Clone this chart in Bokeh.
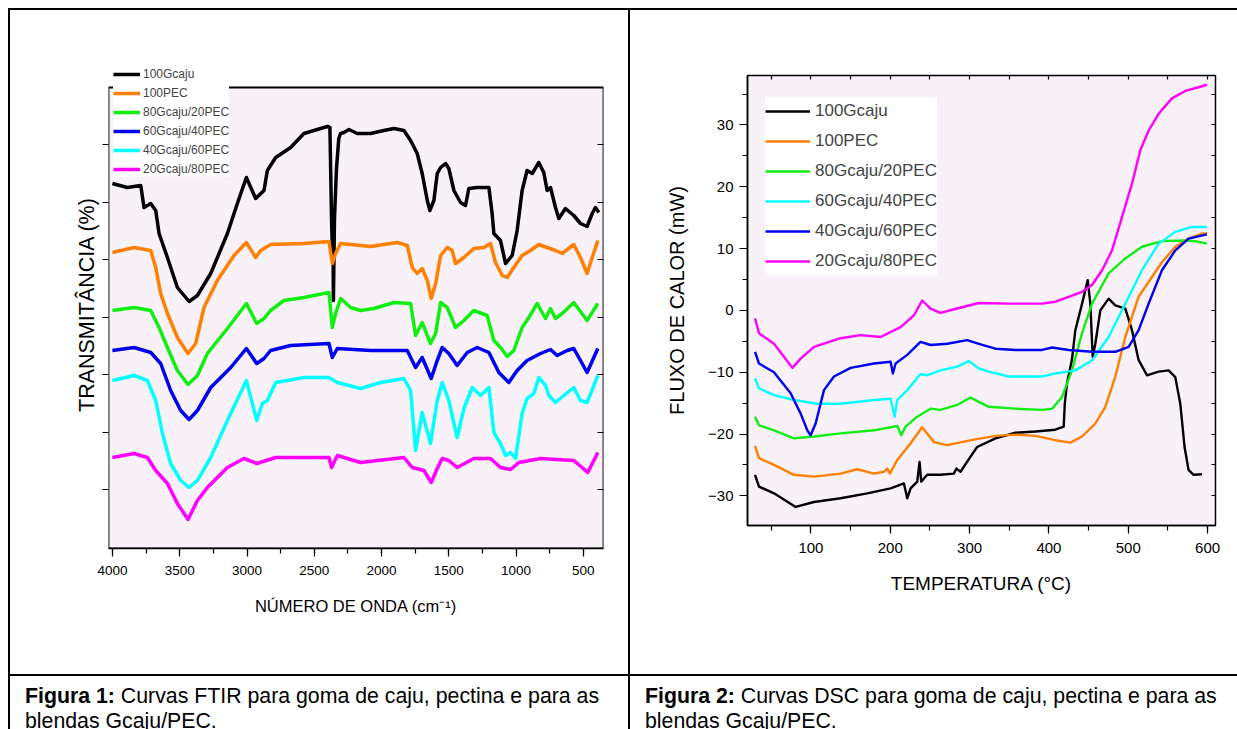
from bokeh.plotting import figure
from bokeh.models import (Range1d, SingleIntervalTicker, FixedTicker, LinearAxis,
                          Legend, LegendItem, Div, BoxAnnotation, CustomJSTickFormatter)
from bokeh.layouts import row, column
from bokeh.embed import file_html
from bokeh.resources import INLINE

# ---------------- FTIR data (wavenumber cm-1, transmittance a.u.) ----------------
ftir_labels = ["100Gcaju", "100PEC", "80Gcaju/20PEC", "60Gcaju/40PEC", "40Gcaju/60PEC", "20Gcaju/80PEC"]

ftir_wn_100g = [4001, 3890, 3790, 3766, 3716, 3679, 3654, 3592, 3518, 3431, 3369, 3270, 3146, 3072, 3005, 2936,
                2874, 2849, 2787, 2676, 2577, 2478, 2403, 2384, 2372, 2366, 2362, 2358, 2350, 2335, 2318, 2305,
                2280, 2242, 2181, 2082, 1983, 1908, 1834, 1784, 1735, 1698, 1660, 1641, 1611, 1586, 1561, 1524,
                1500, 1462, 1413, 1376, 1351, 1289, 1202, 1178, 1165, 1116, 1078, 1029, 992, 955, 918, 880, 831,
                794, 769, 744, 707, 682, 633, 571, 521, 472, 434, 410, 385]
ftir_t_100g = [365, 361, 363, 341, 345, 338, 315, 291, 261, 247, 253, 275, 315, 345, 371, 350,
               358, 378, 391, 401, 415, 419, 422, 421, 330, 300, 330, 248, 330, 380, 410, 415,
               416, 419, 415, 415, 418, 420, 418, 408, 395, 375, 348, 338, 348, 375, 381, 385,
               380, 358, 346, 343, 360, 361, 361, 335, 315, 308, 285, 293, 318, 358, 378, 375, 386,
               376, 358, 361, 341, 330, 340, 333, 325, 322, 335, 341, 336]

ftir_wn_100p = [4001, 3840, 3716, 3679, 3642, 3592, 3518, 3439, 3382, 3320, 3221, 3097, 3005, 2936, 2899, 2825,
                2577, 2391, 2366, 2342, 2304, 2082, 1883, 1809, 1772, 1735, 1698, 1660, 1631, 1598, 1561, 1512,
                1475, 1450, 1388, 1314, 1239, 1190, 1153, 1103, 1066, 1017, 955, 893, 831, 769, 707, 657, 571,
                521, 472, 434, 392]
ftir_t_100p = [296, 301, 298, 281, 255, 235, 211, 195, 205, 241, 268, 293, 306, 291, 298, 304,
               305, 307, 285, 295, 305, 302, 306, 303, 281, 275, 280, 268, 250, 265, 293, 301,
               298, 285, 291, 300, 301, 305, 286, 273, 271, 281, 293, 298, 304, 301, 298, 295, 304,
               291, 275, 291, 308]

ftir_wn_80g = [4001, 3840, 3716, 3654, 3592, 3518, 3439, 3369, 3295, 3146, 3005, 2928, 2874, 2825, 2726, 2577,
               2391, 2366, 2342, 2304, 2230, 2156, 2057, 1908, 1784, 1747, 1698, 1636, 1598, 1561, 1512, 1450,
               1388, 1314, 1215, 1165, 1116, 1066, 1017, 955, 905, 843, 781, 744, 707, 657, 571, 472, 392]
ftir_t_80g = [238, 241, 238, 221, 201, 178, 164, 173, 195, 220, 245, 225, 230, 238, 248, 251,
              256, 221, 235, 250, 241, 238, 240, 246, 245, 213, 226, 205, 215, 246, 241, 221,
              228, 238, 233, 208, 201, 192, 198, 221, 231, 245, 230, 240, 230, 235, 246, 228, 245]

ftir_wn_60g = [4001, 3840, 3716, 3642, 3568, 3493, 3431, 3369, 3270, 3121, 3005, 2928, 2874, 2825, 2676, 2391,
               2366, 2329, 2082, 1809, 1747, 1698, 1631, 1586, 1549, 1500, 1438, 1363, 1289, 1202, 1128, 1054,
               992, 918, 818, 744, 695, 620, 571, 521, 472, 392]
ftir_t_60g = [198, 201, 196, 185, 158, 138, 129, 138, 161, 181, 200, 185, 190, 198, 203, 205,
              191, 200, 198, 198, 181, 191, 170, 188, 201, 195, 183, 196, 201, 196, 176, 166,
              178, 188, 195, 199, 193, 198, 200, 188, 176, 200]

ftir_wn_40g = [4001, 3840, 3741, 3679, 3629, 3568, 3493, 3431, 3369, 3270, 3146, 3005, 2928, 2886, 2849, 2787,
               2577, 2391, 2329, 2156, 2007, 1834, 1784, 1747, 1698, 1636, 1586, 1549, 1500, 1438, 1388, 1326,
               1264, 1202, 1165, 1116, 1078, 1041, 1004, 955, 918, 868, 831, 781, 756, 707, 645, 571, 521, 472, 392]
ftir_t_40g = [168, 173, 168, 148, 115, 85, 68, 61, 68, 91, 128, 168, 128, 145, 148, 166,
              171, 171, 166, 160, 166, 170, 158, 98, 136, 105, 148, 166, 148, 111, 140, 161,
              153, 161, 116, 105, 93, 96, 90, 135, 150, 155, 171, 163, 153, 146, 153, 161, 148, 146, 173]

ftir_wn_20g = [4001, 3840, 3741, 3679, 3592, 3518, 3439, 3369, 3295, 3146, 3023, 2928, 2787, 2391, 2371, 2329,
               2156, 1834, 1772, 1685, 1631, 1586, 1549, 1500, 1438, 1314, 1190, 1116, 1041, 979, 818, 571, 509,
               467, 392]
ftir_t_20g = [91, 95, 91, 78, 65, 45, 29, 48, 61, 81, 90, 85, 91, 91, 81, 93,
              86, 91, 81, 78, 66, 80, 90, 88, 81, 90, 90, 81, 79, 86, 90, 88, 81,
              76, 96]

ftir_yticks = [58.7, 116.2, 173.7, 231.2, 288.7, 346.2, 403.7]
ftir_ymax = 461  # top of the plotted box (a.u.)

# ---------------- DSC data (temperature C, heat flow mW) ----------------
dsc_labels = ["100Gcaju", "100PEC", "80Gcaju/20PEC", "60Gcaju/40PEC", "40Gcaju/60PEC", "20Gcaju/80PEC"]

dsc_t_100g = [29.5, 34.5, 53.4, 80.7, 103.8, 137.4, 171, 200.4, 217.2, 221.4, 225.6, 234, 236.9, 239, 246.6,
              263.3, 280, 283.5, 288.5, 301, 309.5, 332.6, 357.8, 383, 408, 418.6, 420, 422.8, 429, 433.3,
              441.8, 448.9, 452.2, 455.2, 458.5, 464.8, 475.3, 483.7, 496.3, 504.7, 513, 523.6, 538.3, 550.9,
              559.3, 565.6, 571, 576, 582.4, 592.9]
dsc_f_100g = [-26.6, -28.5, -29.6, -31.8, -31.0, -30.4, -29.6, -28.8, -28.0, -30.4, -28.8, -27.7, -24.5, -27.7, -26.6,
              -26.6, -26.4, -25.6, -26.1, -23.7, -22.1, -20.7, -19.8, -19.6, -19.3, -18.8, -15.1, -11.8, -8.0, -3.2,
              1.1, 4.9, 1.1, -7.5, -5.4, 0.0, 1.9, 0.8, 0.3, -3.2, -8.0, -10.5, -9.9, -9.7,
              -10.8, -15.1, -22.1, -25.8, -26.6, -26.5]

dsc_t_100p = [29.5, 34.5, 53.4, 78.6, 103.8, 137.4, 158.4, 179.4, 192, 196.2, 199.5, 208.8, 225.6, 240.2, 255,
              271.7, 305.3, 332.6, 357.8, 383, 408, 427, 441.8, 458.5, 471.1, 483.7, 496.3, 513, 529.9, 542.5,
              559.3, 576, 592.9, 599.2]
dsc_f_100p = [-21.9, -23.9, -25.0, -26.6, -26.9, -26.4, -25.7, -26.4, -26.1, -25.6, -26.4, -24.2, -21.5, -18.9, -21.3,
              -21.8, -20.9, -20.3, -20.1, -20.3, -21.0, -21.4, -20.4, -18.3, -15.6, -10.7, -4.3, 2.2, 5.4, 7.8,
              10.3, 11.6, 12.4, 12.5]

dsc_t_80g = [29.5, 34.5, 53.4, 78.6, 103.8, 137.4, 179.4, 208.8, 213.8, 219.3, 234, 250.7, 263.3, 284.3, 301.1,
             311.6, 324.2, 357.8, 391.4, 404, 416.5, 429.1, 441.7, 454.3, 475.3, 496.3, 517.3, 542.5, 567.7,
             584.5, 599.2]
dsc_f_80g = [-17.2, -18.6, -19.4, -20.7, -20.4, -19.9, -19.4, -18.7, -20.2, -18.8, -17.2, -15.9, -16.1, -15.3, -14.1,
             -14.8, -15.6, -15.9, -16.1, -15.9, -14.0, -9.7, -3.7, 1.1, 6.0, 8.4, 10.3, 11.2, 11.3,
             11.2, 10.8]

dsc_t_60g = [29.5, 34.5, 53.4, 78.6, 108, 137.4, 179.4, 200.4, 205.4, 208.8, 221.4, 238.1, 246.5, 263.3, 284.3,
             299, 311.6, 324.2, 349.4, 391.4, 408, 433.3, 454.3, 475.3, 496.3, 517.3, 538.3, 559.3, 580.3, 599.2]
dsc_f_60g = [-11.0, -12.6, -13.7, -14.5, -15.1, -15.1, -14.5, -14.3, -17.2, -14.5, -12.9, -10.3, -10.5, -9.7, -9.1,
             -8.2, -9.4, -9.9, -10.7, -10.7, -10.2, -9.7, -8.1, -4.3, 1.1, 6.5, 10.8, 12.7, 13.5, 13.5]

dsc_t_40g = [29.5, 34.5, 53.4, 74.4, 87, 95.4, 99.6, 105.9, 116.4, 129, 150, 179.4, 200.4, 203.3, 206.7, 221.4,
             238.1, 250.7, 271.7, 297, 311.6, 332.6, 357.8, 391.4, 404, 425, 454.3, 483.7, 500.5, 513.1, 525.7,
             542.5, 559.3, 576.1, 599.2]
dsc_f_40g = [-6.7, -8.6, -10.0, -13.4, -16.7, -19.4, -20.2, -18.3, -12.9, -10.7, -9.3, -8.6, -8.3, -10.2, -8.6, -7.2,
             -5.1, -5.6, -5.4, -4.8, -5.4, -6.2, -6.4, -6.4, -6.0, -6.4, -6.7, -6.7, -5.9, -3.2, 1.1,
             6.5, 9.7, 11.6, 12.3]

dsc_t_20g = [29.5, 34.5, 53.4, 66, 76.5, 87, 103.8, 137.4, 162.6, 187.8, 213, 229.8, 240.2, 250.7, 263.3, 284.3,
             311.6, 349.4, 391.4, 408, 425, 441.7, 454.3, 467, 479.5, 492.1, 504.7, 515.2, 525.7, 538.3, 555,
             571.9, 588.7, 599.2]
dsc_f_20g = [-1.3, -3.7, -5.4, -7.5, -9.3, -7.8, -5.9, -4.5, -4.0, -4.3, -2.7, -0.8, 1.6, 0.3, -0.4, 0.3,
             1.2, 1.1, 1.1, 1.4, 2.2, 3.0, 4.1, 6.5, 9.7, 15.1, 20.5, 25.9, 29.1, 31.8, 34.3,
             35.5, 36.1, 36.5]

# ---------------- styles ----------------
C_BLACK, C_ORANGE, C_GREEN, C_BLUE, C_CYAN, C_MAGENTA = "#000000", "#ff8000", "#11ee11", "#0000f0", "#00ffff", "#ff00ff"
SANS = "'Liberation Sans', Arial, sans-serif"
PLOT_BG = "#f8f1f8"


def style_axis(ax, tick_out, minor_out, label_size, label_standoff):
    ax.major_tick_out = tick_out
    ax.major_tick_in = 0
    ax.minor_tick_out = minor_out
    ax.minor_tick_in = 0
    ax.axis_line_width = 1.5
    ax.major_tick_line_width = 1.2
    ax.minor_tick_line_width = 1.2
    ax.major_label_text_font = SANS
    ax.major_label_text_font_size = label_size
    ax.major_label_standoff = label_standoff
    ax.major_label_text_color = "black"
    ax.axis_label_text_font = SANS
    ax.axis_label_text_font_style = "normal"
    ax.axis_label_text_color = "black"


def no_labels():
    return CustomJSTickFormatter(code="return ''")


def deco_axis(ticker, tick_in):
    return LinearAxis(ticker=ticker, formatter=no_labels(), major_tick_in=tick_in, major_tick_out=0,
                      minor_tick_in=0, minor_tick_out=0, major_label_text_color=None,
                      axis_line_color=None, major_tick_line_width=1.2)


# ---------------- FTIR figure ----------------
p1 = figure(width=618, height=664, x_range=Range1d(4030, 350), y_range=Range1d(0, 488),
            output_backend="svg", toolbar_location=None, frame_align=False,
            min_border_left=98, min_border_right=25, min_border_top=50, min_border_bottom=126,
            background_fill_color="white", border_fill_color="white", outline_line_color=None)
p1.grid.visible = False
p1.add_layout(BoxAnnotation(top=ftir_ymax, fill_color=PLOT_BG, fill_alpha=1.0, line_color="black",
                            line_alpha=1.0, line_width=1.8, level="underlay"))

ftir_series = [
    (ftir_wn_100g, ftir_t_100g, C_BLACK),
    (ftir_wn_100p, ftir_t_100p, C_ORANGE),
    (ftir_wn_80g, ftir_t_80g, C_GREEN),
    (ftir_wn_60g, ftir_t_60g, C_BLUE),
    (ftir_wn_40g, ftir_t_40g, C_CYAN),
    (ftir_wn_20g, ftir_t_20g, C_MAGENTA),
]
items1 = []
for (xs, ys, col), lab in zip(ftir_series, ftir_labels):
    r = p1.line(xs, ys, line_color=col, line_width=3.5, line_join="round")
    items1.append(LegendItem(label=lab, renderers=[r]))

p1.xaxis.ticker = SingleIntervalTicker(interval=500, num_minor_ticks=2)
style_axis(p1.xaxis[0], 8, 5, "13.5px", 9)
p1.xaxis.axis_label = "NÚMERO DE ONDA (cm⁻¹)"
p1.xaxis.axis_label_text_font_size = "16.5px"
p1.xaxis.axis_label_standoff = 19

p1.yaxis.ticker = FixedTicker(ticks=ftir_yticks)
style_axis(p1.yaxis[0], 6, 0, "13px", 0)
p1.yaxis.formatter = no_labels()
p1.yaxis.major_label_text_color = None
p1.yaxis.axis_line_color = None
p1.yaxis.axis_label = "TRANSMITÂNCIA (%)"
p1.yaxis.axis_label_text_font_size = "21.5px"
p1.yaxis.axis_label_standoff = 4

p1.add_layout(deco_axis(FixedTicker(ticks=ftir_yticks), 6), "right")

leg1 = Legend(items=items1, location=(5, 371), background_fill_color="white", background_fill_alpha=1.0,
              border_line_color=None, label_text_font=SANS, label_text_font_size="12px",
              glyph_width=27, glyph_height=16, label_height=16, spacing=3, padding=2,
              label_standoff=3, margin=0)
p1.add_layout(leg1)

# ---------------- DSC figure ----------------
p2 = figure(width=607, height=664, x_range=Range1d(20, 610), y_range=Range1d(-34.8, 38),
            output_backend="svg", toolbar_location=None, frame_align=False,
            min_border_left=117, min_border_right=22, min_border_top=65, min_border_bottom=149,
            background_fill_color=PLOT_BG, border_fill_color="white",
            outline_line_color="black", outline_line_width=1.5)
p2.grid.visible = False

dsc_series = [
    (dsc_t_100g, dsc_f_100g, C_BLACK),
    (dsc_t_100p, dsc_f_100p, C_ORANGE),
    (dsc_t_80g, dsc_f_80g, C_GREEN),
    (dsc_t_60g, dsc_f_60g, C_CYAN),
    (dsc_t_40g, dsc_f_40g, C_BLUE),
    (dsc_t_20g, dsc_f_20g, C_MAGENTA),
]
items2 = []
for (xs, ys, col), lab in zip(dsc_series, dsc_labels):
    r = p2.line(xs, ys, line_color=col, line_width=2.4, line_join="round")
    items2.append(LegendItem(label=lab, renderers=[r]))

p2.xaxis.ticker = SingleIntervalTicker(interval=100, num_minor_ticks=2)
style_axis(p2.xaxis[0], 8, 5, "15px", 9)
p2.xaxis.axis_label = "TEMPERATURA (°C)"
p2.xaxis.axis_label_text_font_size = "19px"
p2.xaxis.axis_label_standoff = 17

p2.yaxis.ticker = SingleIntervalTicker(interval=10, num_minor_ticks=2)
style_axis(p2.yaxis[0], 8, 5, "15px", 6)
p2.yaxis.axis_label = "FLUXO DE CALOR (mW)"
p2.yaxis.axis_label_text_font_size = "20px"
p2.yaxis.axis_label_standoff = 17

p2.add_layout(deco_axis(SingleIntervalTicker(interval=50, num_minor_ticks=0), 4), "above")
p2.add_layout(deco_axis(SingleIntervalTicker(interval=5, num_minor_ticks=0), 4), "right")

leg2 = Legend(items=items2, location=(18, 250), background_fill_color="white", background_fill_alpha=1.0,
              border_line_color=None, label_text_font=SANS, label_text_font_size="17px",
              glyph_width=45, glyph_height=28, label_height=28, spacing=2, padding=5,
              label_standoff=5, margin=0)
p2.add_layout(leg2)

# ---------------- table frame and captions ----------------
BLACK = {"background-color": "black"}


def hline(w):
    return Div(width=w, height=2, margin=0, styles=BLACK)


def vline(h):
    return Div(width=2, height=h, margin=0, styles=BLACK)


cap_style = ("padding:8px 0 0 15px; font-family:'Liberation Sans', Arial, sans-serif; font-size:21.3px; "
             "line-height:25px; color:black; white-space:nowrap;")
cap1 = Div(width=618, height=53, margin=0, styles={"overflow": "hidden"},
           text=f"<div style=\"{cap_style}\"><b>Figura 1:</b> Curvas FTIR para goma de caju, pectina e para as"
                "<br>blendas Gcaju/PEC.</div>")
cap2 = Div(width=607, height=53, margin=0, styles={"overflow": "hidden"},
           text=f"<div style=\"{cap_style}\"><b>Figura 2:</b> Curvas DSC para goma de caju, pectina e para as"
                "<br>blendas Gcaju/PEC.</div>")

layout = column(
    hline(1229),
    row(vline(664), p1, vline(664), p2, spacing=0),
    hline(1229),
    row(vline(53), cap1, vline(53), cap2, spacing=0),
    spacing=0, margin=(8, 0, 0, 8),
)

open("out.html", "w").write(file_html(layout, INLINE))
